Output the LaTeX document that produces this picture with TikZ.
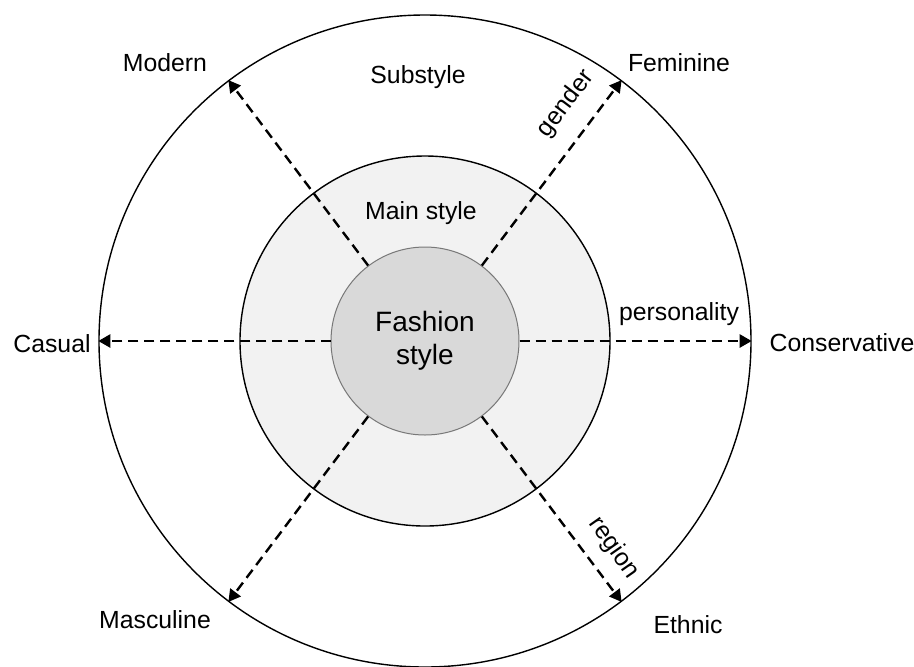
\documentclass[tikz,border=0pt]{standalone}
\usepackage{fontspec}
\setmainfont{Liberation Sans}
\usetikzlibrary{arrows.meta, positioning}
\definecolor{RingGray}{RGB}{242, 242, 242}
\definecolor{CoreGray}{RGB}{217, 217, 217}
\definecolor{EdgeGray}{RGB}{120, 120, 120}
\tikzstyle{ring} = [circle, draw=black, line width=0.7pt, inner sep=0pt]
\tikzstyle{axis} = [dash pattern=on 5pt off 3pt, line width=1.2pt, -{Triangle[length=6pt, width=6.5pt]}]
\tikzstyle{pole} = [font=\fontsize{12.4}{15}\selectfont, inner sep=1pt]

\begin{document}
\begin{tikzpicture}[x=0.5pt, y=0.5pt]
\useasboundingbox (-425,-325) rectangle (489,341);

% Style rings
\node (sub) [ring, fill=white, minimum size=326pt] at (0,0) {};
\node (main) [ring, fill=RingGray, minimum size=185pt] at (0,0) {};
\node (core) [ring, draw=EdgeGray, fill=CoreGray, line width=0.5pt, minimum size=94pt, align=center, font=\fontsize{14}{16.5}\selectfont] at (0,0) {Fashion\\style};

% Dashed axes
\foreach \a in {0,53,127,180,233,307}
    \draw [axis] (core.\a) -- (sub.\a);

% Ring labels
\node (substyle) [pole] at (-7,264) {Substyle};
\node (mainstyle) [pole] at (-4,128) {Main style};

% Axis ends
\node (modern) [pole] at (-260,278) {Modern};
\node (feminine) [pole] at (254,278) {Feminine};
\node (casual) [pole] at (-373,-3) {Casual};
\node (conservative) [pole] at (417,-2) {Conservative};
\node (masculine) [pole] at (-270,-279) {Masculine};
\node (ethnic) [pole] at (263,-284) {Ethnic};

% Axis names
\node (gender) [pole, rotate=53] at (141,237) {gender};
\node (personality) [pole] at (254,27) {personality};
\node (region) [pole, rotate=-55] at (189,-207) {region};

\end{tikzpicture}
\end{document}
